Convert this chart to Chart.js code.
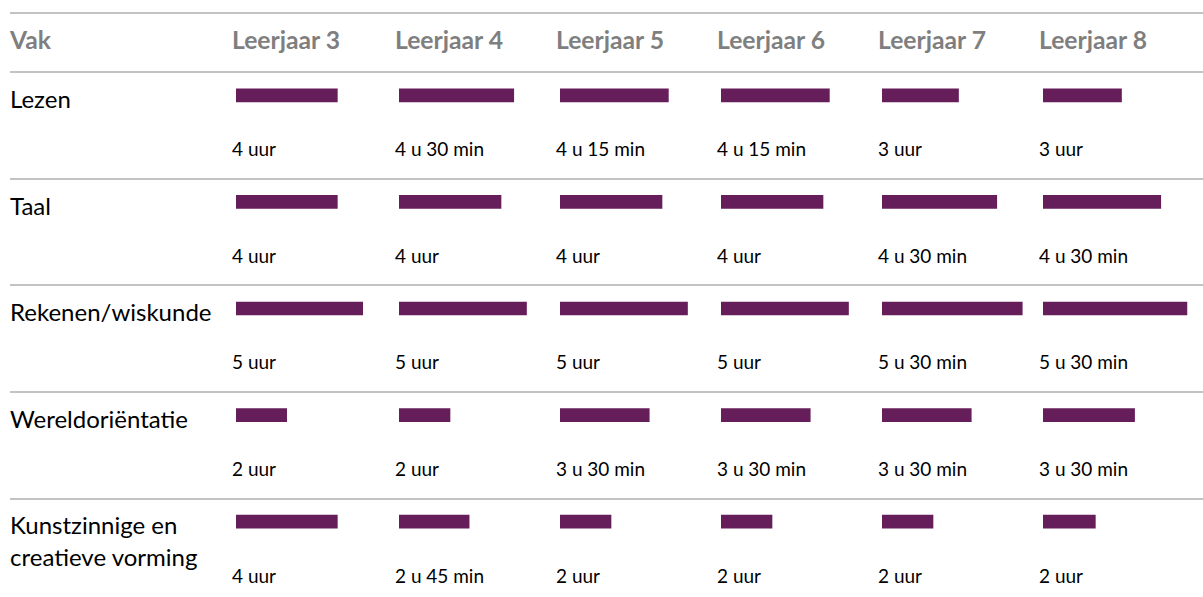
<!DOCTYPE html>
<html>
<head>
<meta charset="utf-8">
<script src="https://cdn.jsdelivr.net/npm/chart.js@4"></script>
<style>
  html, body { margin: 0; padding: 0; background: #fff; }
  body { width: 1203px; height: 597px; position: relative; overflow: hidden; font-family: Lato, "Open Sans", sans-serif; }
  .rule { position: absolute; left: 10px; right: 0; height: 2px; background: #c3c3c3; }
  .txt { position: absolute; white-space: nowrap; line-height: 1; }
  .head { font-weight: bold; color: #7f7f7f; font-size: 24.7px; }
  .vak { font-size: 24px; color: #000; }
  .val { font-size: 19px; color: #000; }
  canvas { position: absolute; pointer-events: none; }
</style>
</head>
<body>
<script>
document.addEventListener('DOMContentLoaded', function () {
    const subjects = ['Lezen', 'Taal', 'Rekenen/wiskunde', 'Wereldoriëntatie', ['Kunstzinnige en', 'creatieve vorming']];
    const grades = ['Leerjaar 3', 'Leerjaar 4', 'Leerjaar 5', 'Leerjaar 6', 'Leerjaar 7', 'Leerjaar 8'];

    // uren per week, per leerjaar (zelfde volgorde als subjects)
    const leerjaar3 = [4, 4, 5, 2, 4];
    const leerjaar4 = [4.5, 4, 5, 2, 2.75];
    const leerjaar5 = [4.25, 4, 5, 3.5, 2];
    const leerjaar6 = [4.25, 4, 5, 3.5, 2];
    const leerjaar7 = [3, 4.5, 5.5, 3.5, 2];
    const leerjaar8 = [3, 4.5, 5.5, 3.5, 2];
    const columns = [leerjaar3, leerjaar4, leerjaar5, leerjaar6, leerjaar7, leerjaar8];

    // layout
    const colX = [236, 399, 560, 721, 882, 1043];
    const colW = [152, 153, 153, 153, 153, 157];
    const lineY = [12, 71, 177.7, 284.3, 391, 497.7];
    const rowTop = 71, rowH = 106.67;

    function fmt(v) {
        const h = Math.floor(v);
        const m = Math.round((v - h) * 60);
        return m === 0 ? h + ' uur' : h + ' u ' + m + ' min';
    }

    function addText(cls, text, x, y) {
        const d = document.createElement('div');
        d.className = 'txt ' + cls;
        d.textContent = text;
        d.style.left = x + 'px';
        d.style.top = y + 'px';
        document.body.appendChild(d);
        return d;
    }

    lineY.forEach(function (y) {
        const r = document.createElement('div');
        r.className = 'rule';
        r.style.top = y + 'px';
        document.body.appendChild(r);
    });

    addText('head', 'Vak', 10, 28);
    grades.forEach(function (g, i) {
        addText('head', g, colX[i] - 4, 28);
    });

    subjects.forEach(function (s, r) {
        const top = rowTop + r * rowH;
        if (Array.isArray(s)) {
            addText('vak', s[0], 10, top + 15);
            addText('vak', s[1], 10, top + 47);
        } else {
            addText('vak', s, 10, top + 16);
        }
        columns.forEach(function (col, c) {
            addText('val', fmt(col[r]), colX[c] - 4, top + 68);
        });
    });

    columns.forEach(function (col, c) {
        const cv = document.createElement('canvas');
        cv.width = colW[c];
        cv.height = Math.round(rowH * 5);
        cv.style.left = colX[c] + 'px';
        cv.style.top = Math.round(rowTop + 24.7 - rowH / 2) + 'px';
        document.body.appendChild(cv);

        new Chart(cv.getContext('2d'), {
            type: 'bar',
            data: {
                labels: subjects,
                datasets: [{
                    label: grades[c],
                    data: col,
                    backgroundColor: '#661e5a',
                    barThickness: 13
                }]
            },
            options: {
                indexAxis: 'y',
                responsive: false,
                animation: false,
                layout: { padding: 0 },
                plugins: {
                    legend: { display: false },
                    tooltip: { enabled: false }
                },
                scales: {
                    x: { min: 0, max: 6, display: false },
                    y: { display: false }
                }
            }
        });
    });
});
</script>
</body>
</html>
